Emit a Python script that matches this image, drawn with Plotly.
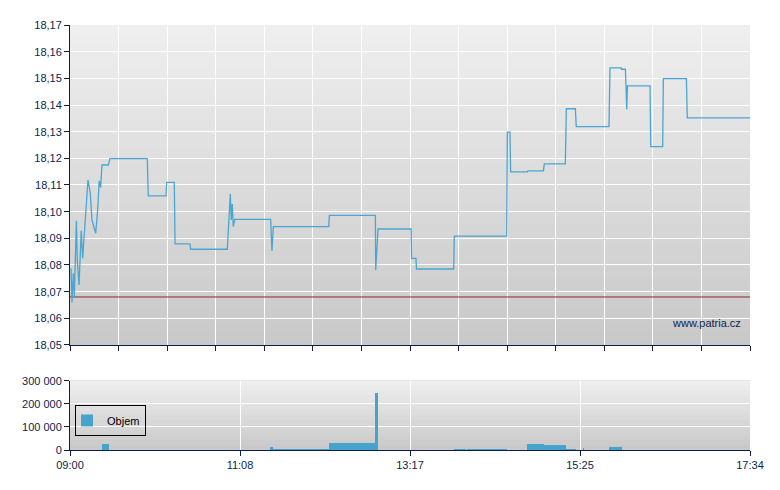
import plotly.graph_objects as go

# ---------------- data ----------------
price_times = [
    "09:00:45", "09:01:30", "09:02:30", "09:03:15", "09:04:50", "09:05:30", "09:06:50",
    "09:08:30", "09:09:35", "09:11:05", "09:13:35", "09:15:20", "09:16:35", "09:19:25",
    "09:20:55", "09:22:05", "09:23:10", "09:24:10", "09:29:00", "09:30:10", "09:58:25",
    "09:59:10", "10:12:35", "10:13:05", "10:18:50", "10:19:25", "10:30:40", "10:31:10",
    "10:58:55", "11:01:10", "11:01:55", "11:02:40", "11:03:25", "11:04:30", "11:31:40",
    "11:32:40", "11:33:40", "12:15:35", "12:16:00", "12:50:50", "12:51:05", "12:52:50",
    "13:17:50", "13:18:10", "13:21:30", "13:21:55", "13:50:00", "13:50:30", "14:30:05",
    "14:30:35", "14:32:35", "14:33:05", "14:45:40", "14:46:10", "14:57:50", "14:58:30",
    "15:14:25", "15:15:10", "15:22:00", "15:22:40", "15:47:25", "15:48:10", "15:56:30",
    "15:56:55", "15:59:50", "16:00:50", "16:01:20", "16:18:25", "16:19:00", "16:28:00",
    "16:28:30", "16:45:55", "16:46:35", "17:34:00",
]
price_values = [
    18.0788, 18.0659, 18.0769, 18.0681, 18.0966, 18.0819, 18.0725,
    18.0929, 18.0825, 18.0944, 18.1119, 18.1069, 18.0969, 18.0919,
    18.1006, 18.1116, 18.1090, 18.1175, 18.1175, 18.1199, 18.1199,
    18.1059, 18.1059, 18.1110, 18.1110, 18.0879, 18.0879, 18.0859,
    18.0859, 18.1066, 18.0969, 18.1029, 18.0944, 18.0971, 18.0971,
    18.0853, 18.0944, 18.0944, 18.0986, 18.0986, 18.0780, 18.0935,
    18.0935, 18.0825, 18.0825, 18.0785, 18.0785, 18.0908, 18.0908,
    18.1298, 18.1298, 18.1149, 18.1149, 18.1153, 18.1153, 18.1179,
    18.1179, 18.1386, 18.1386, 18.1319, 18.1319, 18.1539, 18.1539,
    18.1534, 18.1534, 18.1384, 18.1472, 18.1472, 18.1244, 18.1244,
    18.1499, 18.1499, 18.1352, 18.1352,
]
previous_close = 18.068

volume_start = ["09:24:10", "11:31:55", "11:33:10", "12:15:50", "12:50:30", "13:50:20",
                "13:59:55", "14:45:25", "14:58:05", "15:14:40", "15:27:50", "15:47:25"]
volume_end = ["09:29:20", "11:33:10", "12:15:50", "12:50:30", "12:52:35", "13:59:20",
              "14:30:05", "14:58:05", "15:14:40", "15:22:20", "15:28:20", "15:57:00"]
volume_values = [26000, 13000, 5000, 30000, 250000, 5000,
                 5000, 26000, 22000, 4000, 8000, 13000]

session_start = "09:00"
session_end = "17:34"
axis_labels = ["09:00", "11:08", "13:17", "15:25", "17:34"]
price_ticks = [18.05, 18.06, 18.07, 18.08, 18.09, 18.10, 18.11, 18.12, 18.13, 18.14, 18.15, 18.16, 18.17]
volume_ticks = [0, 100000, 200000, 300000]


def minutes(s):
    parts = [int(p) for p in s.split(":")]
    while len(parts) < 3:
        parts.append(0)
    h, m, sec = parts
    base_h, base_m = [int(p) for p in session_start.split(":")]
    return (h * 60 + m + sec / 60.0) - (base_h * 60 + base_m)


t0 = 0.0
t1 = minutes(session_end)
px = [minutes(s) for s in price_times]
vs = [minutes(s) for s in volume_start]
ve = [minutes(s) for s in volume_end]
vmid = [(a + b) / 2 for a, b in zip(vs, ve)]
vwidth = [b - a for a, b in zip(vs, ve)]

label_vals = [t0 + i * (t1 - t0) / 4 for i in range(5)]
minor_vals = [t0 + i * (t1 - t0) / 14 for i in range(15)]

NAVY = "#0b1f4e"
LINE = "#4aa6d0"
FONT = "Liberation Sans, Arial, sans-serif"

fig = go.Figure()
fig.add_trace(go.Scatter(
    x=[t0, t1], y=[previous_close, previous_close], mode="lines",
    line=dict(color="#8a2a2a", width=1),
    xaxis="x", yaxis="y", showlegend=False, hoverinfo="skip",
))
fig.add_trace(go.Scatter(
    x=px, y=price_values, mode="lines",
    line=dict(color=LINE, width=1.3),
    xaxis="x", yaxis="y", showlegend=False, hoverinfo="skip",
))
fig.add_trace(go.Bar(
    x=vmid, y=volume_values, width=vwidth, name="Objem",
    marker=dict(color="#45a3cc", line=dict(width=0)),
    xaxis="x2", yaxis="y2", showlegend=True,
))

# gradient backgrounds (stacked, overlapping bands -> no seams)
shapes = []
c_top = (239, 239, 239)
c_bot = (200, 200, 200)
for xr, yr, n in (("x domain", "y domain", 50), ("x2 domain", "y2 domain", 14)):
    for i in range(n):
        f = (i + 0.5) / n
        col = tuple(int(round(c_bot[k] + (c_top[k] - c_bot[k]) * f)) for k in range(3))
        shapes.append(dict(
            type="rect", xref=xr, yref=yr, x0=0, x1=1, y0=i / n, y1=1,
            fillcolor="rgb(%d,%d,%d)" % col, line=dict(width=0), layer="below",
        ))

axis_common = dict(
    showline=True, linecolor=NAVY, linewidth=1, ticks="outside", ticklen=5,
    tickcolor=NAVY, tickwidth=1, gridcolor="#ffffff", gridwidth=1, zeroline=False,
    tickfont=dict(family=FONT, size=11, color=NAVY),
)

fig.update_layout(
    width=772, height=482,
    margin=dict(l=62, r=30, t=17, b=40),
    paper_bgcolor="#ffffff", plot_bgcolor="rgba(0,0,0,0)",
    separators=", ",
    shapes=shapes,
    xaxis=dict(domain=[0, 1], range=[t0, t1], tickmode="array", tickvals=minor_vals,
               showticklabels=False, anchor="y", **axis_common),
    yaxis=dict(domain=[0.2471, 1], range=[18.05, 18.17], tickmode="array", tickvals=price_ticks,
               tickformat=".2f", anchor="x", **axis_common),
    xaxis2=dict(domain=[0, 1], range=[t0, t1], tickmode="array", tickvals=label_vals,
                ticktext=axis_labels, anchor="y2", **axis_common),
    yaxis2=dict(domain=[0, 0.1631], range=[0, 300000], tickmode="array", tickvals=volume_ticks,
                tickformat=",d", anchor="x2", **axis_common),
    legend=dict(x=0.0074, y=0.106, xanchor="left", yanchor="top",
                bgcolor="rgba(0,0,0,0)", bordercolor="#000000", borderwidth=1,
                font=dict(family=FONT, size=11, color="#000000"), itemwidth=30,
                indentation=-9),
    bargap=0,
    annotations=[dict(text="www.patria.cz", xref="paper", yref="paper", x=0.99, y=0.299,
                      xanchor="right", yanchor="middle", showarrow=False,
                      font=dict(family=FONT, size=11, color=NAVY))],
    hovermode=False,
)

fig.write_html("out.html")
